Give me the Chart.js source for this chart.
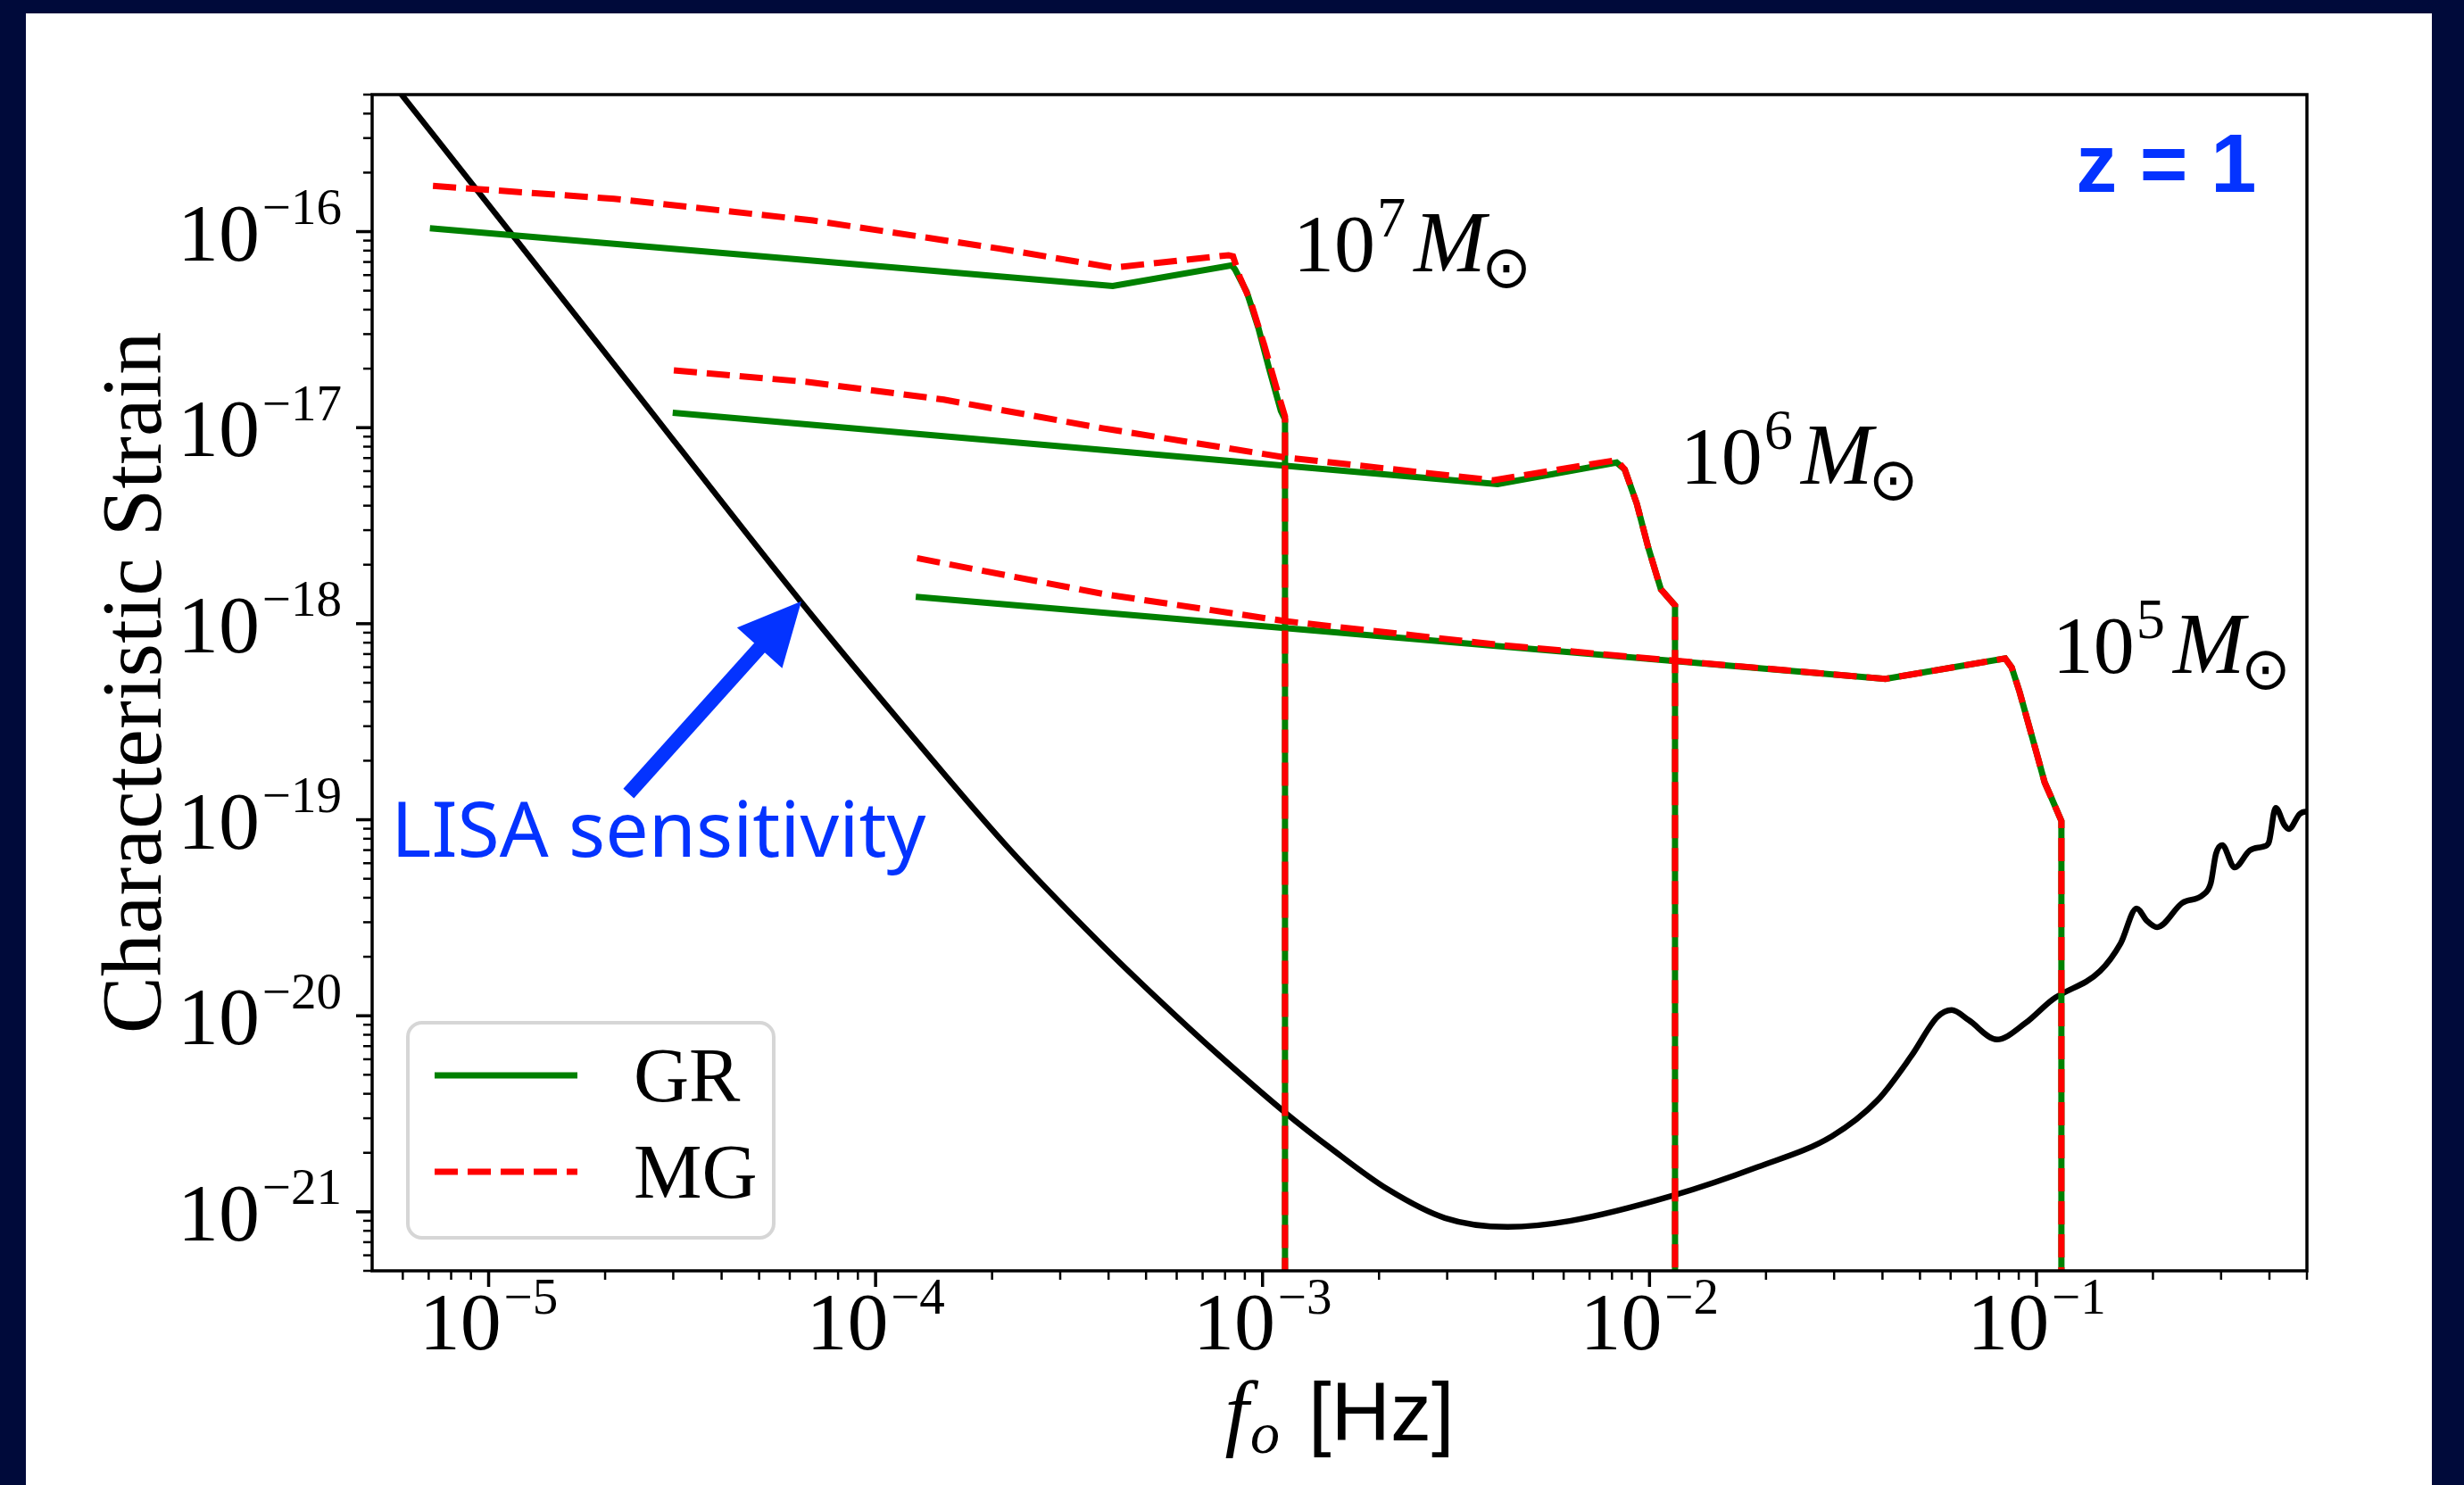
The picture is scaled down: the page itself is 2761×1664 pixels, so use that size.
<!DOCTYPE html>
<html>
<head>
<meta charset="utf-8">
<title>Characteristic strain vs LISA sensitivity</title>
<script src="https://cdn.jsdelivr.net/npm/chart.js@4.4.1/dist/chart.umd.min.js"></script>
<style>
    html, body { margin: 0; padding: 0; background: #000a3a; }
    #wrap { width: 2761px; height: 1664px; }
</style>
</head>
<body>
<div id="wrap"><canvas id="strainChart" width="2761" height="1664"></canvas></div>
<script>
// Axis limits and decade ticks
const xLimits = [5e-6, 0.5];
const yLimits = [5e-22, 5e-16];
const xMajorExp = [-5, -4, -3, -2, -1];
const yMajorExp = [-21, -20, -19, -18, -17, -16];

// LISA sensitivity curve (Hz, characteristic strain)
const lisaFreq = [5.5e-6, 5.98e-6, 1.16e-5, 2.25e-5, 6.4e-5, 1.135e-4, 2.19e-4, 3.8e-4, 5.43e-4, 7.64e-4,
    1.146e-3, 1.5e-3, 2.11e-3, 2.96e-3, 4.3e-3, 6.22e-3, 1.15e-2, 1.9e-2, 2.96e-2, 3.88e-2,
    4.75e-2, 5.54e-2, 6.04e-2, 6.68e-2, 7.9e-2, 9.36e-2, 0.110, 0.146, 0.165, 0.1815,
    0.193, 0.205, 0.238, 0.269, 0.282, 0.291, 0.302, 0.325, 0.356, 0.384,
    0.398, 0.415, 0.438, 0.449, 0.479, 0.497, 0.52];
const lisaStrain = [6.1e-16, 4.95e-16, 9.45e-17, 1.79e-17, 1.3e-18, 3.31e-19, 7.28e-20, 2.35e-20, 1.19e-20, 6.4e-21,
    3.2e-21, 2.11e-21, 1.3e-21, 9.3e-22, 8.37e-22, 8.98e-22, 1.21e-21, 1.69e-21, 2.43e-21, 3.7e-21,
    6.24e-21, 9.84e-21, 1.07e-20, 9.5e-21, 7.57e-21, 9.17e-21, 1.21e-20, 1.69e-20, 2.34e-20, 3.53e-20,
    3.05e-20, 2.83e-20, 3.76e-20, 4.13e-20, 4.73e-20, 6.7e-20, 7.43e-20, 5.71e-20, 6.98e-20, 7.28e-20,
    7.6e-20, 1.15e-19, 9.35e-20, 8.97e-20, 1.07e-19, 1.10e-19, 1.1e-19];

// 10^7 solar masses
const gr7Freq = [7.05e-6, 4.1e-4, 8.33e-4, 8.49e-4, 9.1e-4, 9.75e-4, 1.04e-3, 1.115e-3, 1.143e-3, 1.143e-3];
const gr7Strain = [1.04e-16, 5.28e-17, 6.73e-17, 6.41e-17, 4.93e-17, 3.24e-17, 2.0e-17, 1.22e-17, 1.1e-17, 1e-23];
const mg7Freq = [7.18e-6, 2.11e-5, 6.89e-5, 2.09e-4, 4.1e-4, 8.17e-4, 8.39e-4, 8.73e-4, 9.35e-4, 1.01e-3, 1.084e-3, 1.143e-3, 1.143e-3];
const mg7Strain = [1.71e-16, 1.47e-16, 1.14e-16, 8.19e-17, 6.55e-17, 7.58e-17, 7.48e-17, 5.89e-17, 4.3e-17, 2.64e-17, 1.62e-17, 1.14e-17, 1e-23];

// 10^6 solar masses
const gr6Freq = [2.99e-5, 4.05e-3, 8.22e-3, 8.63e-3, 9.27e-3, 9.93e-3, 1.07e-2, 1.164e-2, 1.164e-2];
const gr6Strain = [1.19e-17, 5.15e-18, 6.64e-18, 6.12e-18, 4.1e-18, 2.44e-18, 1.5e-18, 1.24e-18, 1e-23];
const mg6Freq = [3.01e-5, 6.67e-5, 1.5e-4, 3.86e-4, 1.146e-3, 3.94e-3, 8.22e-3, 8.63e-3, 9.27e-3, 9.93e-3, 1.07e-2, 1.164e-2, 1.164e-2];
const mg6Strain = [1.96e-17, 1.71e-17, 1.39e-17, 9.93e-18, 7.05e-18, 5.39e-18, 6.83e-18, 6.12e-18, 4.1e-18, 2.44e-18, 1.5e-18, 1.24e-18, 1e-23];

// 10^5 solar masses
const gr5Freq = [1.27e-4, 4.07e-2, 8.3e-2, 8.63e-2, 9.04e-2, 0.101, 0.105, 0.109, 0.116, 0.116];
const gr5Strain = [1.37e-18, 5.23e-19, 6.65e-19, 5.98e-19, 4.5e-19, 2.05e-19, 1.55e-19, 1.31e-19, 9.86e-20, 1e-23];
const mg5Freq = [1.28e-4, 3.86e-4, 1.146e-3, 4.13e-3, 1.16e-2, 4.07e-2, 8.3e-2, 8.63e-2, 9.04e-2, 0.101, 0.105, 0.109, 0.116, 0.116];
const mg5Strain = [2.16e-18, 1.42e-18, 1.03e-18, 7.78e-19, 6.48e-19, 5.23e-19, 6.65e-19, 5.98e-19, 4.5e-19, 2.05e-19, 1.55e-19, 1.31e-19, 9.86e-20, 1e-23];

// Text annotations, anchored in data coordinates
const massLabels = [
    { exp: 7, x: 1.2e-3, y: 6.28e-17 },
    { exp: 6, x: 1.2e-2, y: 5.18e-18 },
    { exp: 5, x: 0.11, y: 5.62e-19 }
];
const lisaLabel = { text: 'LISA sensitivity', x: 5.6e-6, y: 6.49e-20 };
const lisaArrow = { from: [2.3e-5, 1.36e-19], to: [6.43e-5, 1.3e-18] };
const redshiftLabel = { text: 'z = 1', x: 0.37, y: 1.6e-16 };

const GREEN = '#008000';
const RED = '#ff0000';
const BLUE = '#0433ff';
const SERIF = '"Liberation Serif", "DejaVu Serif", serif';

function pts(fs, hs) {
    return fs.map((f, i) => ({ x: f, y: hs[i] }));
}

function grSet(fs, hs) {
    return { group: 'GR', data: pts(fs, hs), borderColor: GREEN, borderWidth: 7, tension: 0, order: 2, clip: 0 };
}

function mgSet(fs, hs) {
    return { group: 'MG', data: pts(fs, hs), borderColor: RED, borderWidth: 7, borderDash: [26, 11], tension: 0, order: 1, clip: 0 };
}

function drawPower(ctx, px, baseY, exp, size, align) {
    const supSize = size * 0.62;
    const sup = exp < 0 ? '\u2212' + (-exp) : String(exp);
    ctx.font = size + 'px ' + SERIF;
    const wBase = ctx.measureText('10').width;
    ctx.font = supSize + 'px ' + SERIF;
    const wSup = ctx.measureText(sup).width;
    const gap = size * 0.03;
    const total = wBase + gap + wSup;
    const left = align === 'right' ? px - total : px - total / 2;
    ctx.textAlign = 'left';
    ctx.textBaseline = 'alphabetic';
    ctx.font = size + 'px ' + SERIF;
    ctx.fillText('10', left, baseY);
    ctx.font = supSize + 'px ' + SERIF;
    ctx.fillText(sup, left + wBase + gap, baseY - size * 0.44);
}

function drawMass(ctx, px, baseY, exp, size) {
    ctx.textAlign = 'left';
    ctx.textBaseline = 'alphabetic';
    ctx.font = size + 'px ' + SERIF;
    ctx.fillText('10', px, baseY);
    let x = px + ctx.measureText('10').width;
    ctx.font = (size * 0.7) + 'px ' + SERIF;
    ctx.fillText(String(exp), x + 2, baseY - size * 0.42);
    x += ctx.measureText(String(exp)).width + size * 0.12;
    ctx.font = 'italic ' + (size * 1.05) + 'px ' + SERIF;
    ctx.fillText('M', x, baseY);
    x += ctx.measureText('M').width - size * 0.05;
    ctx.font = (size * 0.72) + 'px "DejaVu Sans", sans-serif';
    ctx.fillText('\u2299', x, baseY + size * 0.2);
}

const figurePlugin = {
    id: 'figure',
    beforeDraw(chart) {
        const ctx = chart.ctx;
        ctx.save();
        ctx.fillStyle = '#000a3a';
        ctx.fillRect(0, 0, chart.width, chart.height);
        ctx.fillStyle = '#ffffff';
        ctx.fillRect(29, 15, 2725 - 29, chart.height - 15);
        ctx.restore();
    },
    afterDraw(chart) {
        const ctx = chart.ctx;
        const a = chart.chartArea;
        const xs = chart.scales.x, ys = chart.scales.y;
        ctx.save();

        // frame
        ctx.strokeStyle = '#000';
        ctx.lineWidth = 3.5;
        ctx.strokeRect(a.left, a.top, a.right - a.left, a.bottom - a.top);

        // ticks
        ctx.lineCap = 'butt';
        for (let e = -6; e <= -1; e++) {
            for (let k = 1; k <= 9; k++) {
                const v = k * Math.pow(10, e);
                if (v < xLimits[0] || v > xLimits[1]) continue;
                const px = xs.getPixelForValue(v);
                ctx.lineWidth = k === 1 ? 3.5 : 2.5;
                ctx.beginPath();
                ctx.moveTo(px, a.bottom);
                ctx.lineTo(px, a.bottom + (k === 1 ? 18 : 10));
                ctx.stroke();
            }
        }
        for (let e = -22; e <= -16; e++) {
            for (let k = 1; k <= 9; k++) {
                const v = k * Math.pow(10, e);
                if (v < yLimits[0] || v > yLimits[1]) continue;
                const py = ys.getPixelForValue(v);
                ctx.lineWidth = k === 1 ? 3.5 : 2.5;
                ctx.beginPath();
                ctx.moveTo(a.left, py);
                ctx.lineTo(a.left - (k === 1 ? 18 : 10), py);
                ctx.stroke();
            }
        }

        // tick labels
        ctx.fillStyle = '#000';
        xMajorExp.forEach(e => drawPower(ctx, xs.getPixelForValue(Math.pow(10, e)), a.bottom + 88, e, 92, 'center'));
        yMajorExp.forEach(e => drawPower(ctx, a.left - 34, ys.getPixelForValue(Math.pow(10, e)) + 32, e, 92, 'right'));

        // axis titles
        const cx = (a.left + a.right) / 2;
        const fFont = 'italic 96px ' + SERIF;
        const oFont = 'italic 66px ' + SERIF;
        const hzFont = '92px "Liberation Sans", sans-serif';
        ctx.font = fFont; const wf = ctx.measureText('f').width;
        ctx.font = oFont; const wo = ctx.measureText('o').width;
        ctx.font = hzFont; const wh = ctx.measureText('[Hz]').width;
        const gapT = 34;
        const tx = cx - (wf + wo + gapT + wh) / 2;
        const tb = a.bottom + 190;
        ctx.textAlign = 'left';
        ctx.font = fFont; ctx.fillText('f', tx, tb);
        ctx.font = oFont; ctx.fillText('o', tx + wf + 2, tb + 14);
        ctx.font = hzFont; ctx.fillText('[Hz]', tx + wf + wo + gapT, tb);

        ctx.save();
        ctx.translate(180, (a.top + a.bottom) / 2);
        ctx.rotate(-Math.PI / 2);
        ctx.textAlign = 'center';
        ctx.font = '96px ' + SERIF;
        ctx.fillText('Characteristic Strain', 0, 0);
        ctx.restore();

        // mass annotations
        massLabels.forEach(m => drawMass(ctx, xs.getPixelForValue(m.x), ys.getPixelForValue(m.y), m.exp, 92));

        // LISA label and arrow
        ctx.fillStyle = BLUE;
        ctx.font = '86px "Noto Sans", sans-serif';
        ctx.textAlign = 'left';
        ctx.fillText(lisaLabel.text, xs.getPixelForValue(lisaLabel.x), ys.getPixelForValue(lisaLabel.y));

        const x0 = xs.getPixelForValue(lisaArrow.from[0]), y0 = ys.getPixelForValue(lisaArrow.from[1]);
        const x1 = xs.getPixelForValue(lisaArrow.to[0]), y1 = ys.getPixelForValue(lisaArrow.to[1]);
        const len = Math.hypot(x1 - x0, y1 - y0);
        const ux = (x1 - x0) / len, uy = (y1 - y0) / len;
        const headLen = 70, headHalf = 34;
        const bx = x1 - ux * headLen, by = y1 - uy * headLen;
        ctx.strokeStyle = BLUE;
        ctx.lineWidth = 16;
        ctx.beginPath();
        ctx.moveTo(x0, y0);
        ctx.lineTo(bx + ux * 8, by + uy * 8);
        ctx.stroke();
        ctx.beginPath();
        ctx.moveTo(x1, y1);
        ctx.lineTo(bx - uy * headHalf, by + ux * headHalf);
        ctx.lineTo(bx + uy * headHalf, by - ux * headHalf);
        ctx.closePath();
        ctx.fill();

        // redshift label
        ctx.font = 'bold 92px "Liberation Sans", sans-serif';
        ctx.textAlign = 'right';
        ctx.fillText(redshiftLabel.text, xs.getPixelForValue(redshiftLabel.x), ys.getPixelForValue(redshiftLabel.y));

        // legend
        const lx = a.left + 40, lw = 410, lh = 241;
        const ly = a.bottom - 37 - lh;
        ctx.beginPath();
        ctx.roundRect(lx, ly, lw, lh, 16);
        ctx.fillStyle = 'rgba(255,255,255,0.8)';
        ctx.fill();
        ctx.strokeStyle = '#d6d6d6';
        ctx.lineWidth = 4;
        ctx.stroke();
        const legendGroups = ['GR', 'MG'];
        legendGroups.forEach((g, i) => {
            const ds = chart.data.datasets.find(d => d.group === g);
            const yy = ly + 59 + i * 108;
            ctx.strokeStyle = ds.borderColor;
            ctx.lineWidth = ds.borderWidth;
            ctx.setLineDash(ds.borderDash || []);
            ctx.beginPath();
            ctx.moveTo(lx + 30, yy);
            ctx.lineTo(lx + 190, yy);
            ctx.stroke();
            ctx.setLineDash([]);
            ctx.fillStyle = '#000';
            ctx.font = '86px ' + SERIF;
            ctx.textAlign = 'left';
            ctx.fillText(g, lx + 253, yy + 29);
        });

        ctx.restore();
    }
};

new Chart(document.getElementById('strainChart').getContext('2d'), {
    type: 'line',
    data: {
        datasets: [
            mgSet(mg7Freq, mg7Strain),
            mgSet(mg6Freq, mg6Strain),
            mgSet(mg5Freq, mg5Strain),
            grSet(gr7Freq, gr7Strain),
            grSet(gr6Freq, gr6Strain),
            grSet(gr5Freq, gr5Strain),
            {
                group: 'LISA',
                data: pts(lisaFreq, lisaStrain),
                borderColor: '#000',
                borderWidth: 6.5,
                cubicInterpolationMode: 'monotone',
                order: 3,
                clip: 0
            }
        ]
    },
    options: {
        responsive: false,
        animation: false,
        devicePixelRatio: 1,
        layout: { padding: { left: 0, top: 106, right: 176, bottom: 0 } },
        elements: { point: { radius: 0 }, line: { fill: false } },
        plugins: {
            legend: { display: false },
            tooltip: { enabled: false }
        },
        scales: {
            x: {
                type: 'logarithmic',
                min: xLimits[0],
                max: xLimits[1],
                grid: { display: false },
                border: { display: false },
                ticks: { display: false },
                afterFit: s => { s.height = 240; }
            },
            y: {
                type: 'logarithmic',
                min: yLimits[0],
                max: yLimits[1],
                grid: { display: false },
                border: { display: false },
                ticks: { display: false },
                afterFit: s => { s.width = 417; }
            }
        }
    },
    plugins: [figurePlugin]
});
</script>
</body>
</html>
